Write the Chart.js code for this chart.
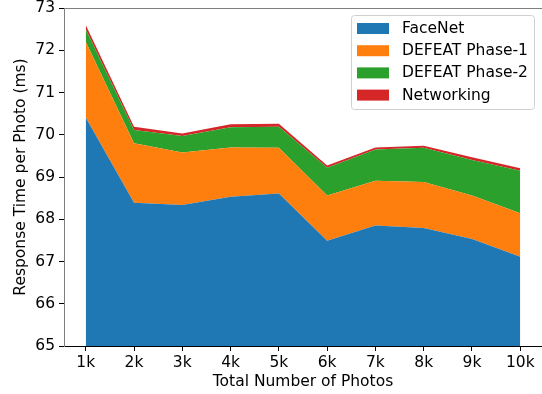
<!DOCTYPE html>
<html>
<head>
<meta charset="utf-8">
<script src="https://cdn.jsdelivr.net/npm/chart.js@4/dist/chart.umd.min.js"></script>
<style>
  html, body { margin: 0; padding: 0; background: #fff; }
  #wrap { width: 542px; height: 394px; }
</style>
</head>
<body>
<div id="wrap"><canvas id="chart" width="542" height="394"></canvas></div>
<script>
// Photo counts (thousands) and their tick labels
const photoCounts = [1, 2, 3, 4, 5, 6, 7, 8, 9, 10];
const photoLabels = ['1k', '2k', '3k', '4k', '5k', '6k', '7k', '8k', '9k', '10k'];

// Per-photo response time components (ms), stacked in this order
const faceNet     = [70.41, 68.39, 68.34, 68.53, 68.61, 67.49, 67.85, 67.79, 67.53, 67.11];
const defeatP1    = [1.79, 1.41, 1.24, 1.17, 1.08, 1.07, 1.06, 1.09, 1.03, 1.03];
const defeatP2    = [0.30, 0.31, 0.39, 0.48, 0.50, 0.66, 0.74, 0.81, 0.84, 1.01];
const networking  = [0.10, 0.08, 0.06, 0.07, 0.07, 0.05, 0.05, 0.05, 0.07, 0.06];

const yTicks = [65, 66, 67, 68, 69, 70, 71, 72, 73];

const FONT = "'DejaVu Sans', sans-serif";
const FSIZE = 15.5;

function series(label, values, color, fill) {
  return {
    label,
    data: values.map((v, i) => ({ x: photoCounts[i], y: v })),
    backgroundColor: color,
    borderColor: color,
    borderWidth: 0,
    pointRadius: 0,
    tension: 0,
    fill
  };
}

// Top frame line of the plotting area
const frame = {
  id: 'frame',
  afterDatasetsDraw(chart) {
    const { ctx, chartArea: a } = chart;
    ctx.save();
    ctx.strokeStyle = '#7f7f7f';
    ctx.lineWidth = 1;
    ctx.beginPath();
    ctx.moveTo(a.left, a.top + 0.5);
    ctx.lineTo(a.right, a.top + 0.5);
    ctx.stroke();
    ctx.restore();
  }
};

// Boxed legend in the upper right corner of the plot
const boxLegend = {
  id: 'boxLegend',
  afterDraw(chart) {
    const { ctx } = chart;
    const x = 351, y = 15, w = 183, h = 94, r = 3;
    ctx.save();
    ctx.fillStyle = 'rgba(255,255,255,0.8)';
    ctx.strokeStyle = '#d0d0d0';
    ctx.lineWidth = 1;
    ctx.beginPath();
    ctx.roundRect(x + 0.5, y + 0.5, w, h, r);
    ctx.fill();
    ctx.stroke();
    ctx.font = FSIZE + 'px ' + FONT;
    ctx.textBaseline = 'middle';
    chart.data.datasets.forEach((ds, i) => {
      const cy = 28.5 + i * 22.2;
      ctx.fillStyle = ds.backgroundColor;
      ctx.fillRect(357, cy - 5.5, 32, 11);
      ctx.fillStyle = '#000';
      ctx.fillText(ds.label, 402, cy + 0.5);
    });
    ctx.restore();
  }
};

new Chart(document.getElementById('chart'), {
  type: 'line',
  data: {
    datasets: [
      series('FaceNet', faceNet, '#1f77b4', 'start'),
      series('DEFEAT Phase-1', defeatP1, '#ff7f0e', '-1'),
      series('DEFEAT Phase-2', defeatP2, '#2ca02c', '-1'),
      series('Networking', networking, '#d62728', '-1')
    ]
  },
  options: {
    responsive: false,
    animation: false,
    devicePixelRatio: 1,
    layout: { padding: { top: 8, right: 0, left: 0, bottom: 0 } },
    plugins: {
      legend: { display: false },
      tooltip: { enabled: false },
      filler: { propagate: false }
    },
    scales: {
      x: {
        type: 'linear',
        min: 0.55,
        max: 10.45,
        afterBuildTicks(scale) {
          scale.ticks = photoCounts.map(v => ({ value: v }));
        },
        afterFit(scale) {
          scale.height = 48;
          scale.paddingLeft = 0;
          scale.paddingRight = 0;
        },
        ticks: {
          autoSkip: false,
          maxRotation: 0,
          padding: 3,
          color: '#000',
          font: { family: FONT, size: FSIZE },
          callback: (v) => photoLabels[photoCounts.indexOf(v)]
        },
        grid: {
          display: true,
          drawOnChartArea: false,
          drawTicks: true,
          tickLength: 5,
          tickColor: '#000',
          tickWidth: 1
        },
        border: { display: true, color: '#000', width: 1 },
        title: {
          display: true,
          text: 'Total Number of Photos',
          color: '#000',
          font: { family: FONT, size: FSIZE },
          padding: { top: 0, bottom: 3 }
        }
      },
      y: {
        stacked: true,
        min: 65,
        max: 73,
        afterBuildTicks(scale) {
          scale.ticks = yTicks.map(v => ({ value: v }));
        },
        afterFit(scale) {
          scale.width = 64;
          scale.paddingTop = 0;
          scale.paddingBottom = 0;
        },
        ticks: {
          padding: 4,
          color: '#000',
          font: { family: FONT, size: FSIZE }
        },
        grid: {
          display: true,
          drawOnChartArea: false,
          drawTicks: true,
          tickLength: 5,
          tickColor: '#000',
          tickWidth: 1
        },
        border: { display: true, color: '#7f7f7f', width: 1 },
        title: {
          display: true,
          text: 'Response Time per Photo (ms)',
          color: '#000',
          font: { family: FONT, size: FSIZE },
          padding: { top: 12, bottom: 0 }
        }
      }
    }
  },
  plugins: [frame, boxLegend]
});
</script>
</body>
</html>
